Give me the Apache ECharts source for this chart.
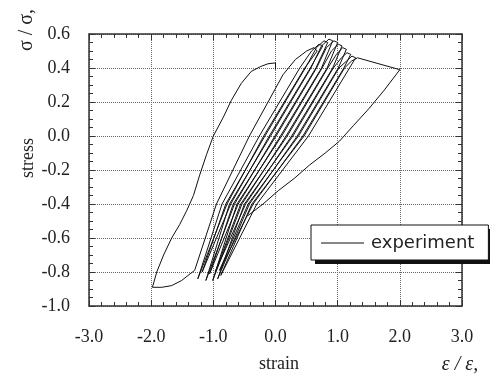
<!DOCTYPE html>
<html>
<head>
<meta charset="utf-8">
<script src="https://cdn.jsdelivr.net/npm/echarts@6/dist/echarts.min.js"></script>
<style>
  html, body { margin: 0; padding: 0; background: #fff; }
  #chart { width: 492px; height: 382px; }
</style>
</head>
<body>
<div id="chart"></div>
<script>
// 単調載荷 (0 -> 圧縮側 -2.0)
var skeletonCurve = [
  [0, 0.39], [0, 0.43], [-0.12, 0.425], [-0.23, 0.41], [-0.39, 0.38], [-0.55, 0.31],
  [-0.71, 0.21], [-0.84, 0.11], [-1.0, 0.0], [-1.11, -0.11], [-1.22, -0.23],
  [-1.32, -0.35], [-1.43, -0.44], [-1.54, -0.52], [-1.67, -0.6], [-1.8, -0.7],
  [-1.91, -0.8], [-1.98, -0.89]
];
// 再載荷
var reloadCurve = [
  [-1.83, -0.89], [-1.67, -0.88], [-1.51, -0.85], [-1.30, -0.79]
];
// 繰返しループ (上昇 -> 頂部 -> 下降)
var cycleLoops = [
  [[-0.95, -0.4], [-0.42, 0], [0.12, 0.36], [0.32, 0.45], [0.50, 0.50], [0.62, 0.52], [0.67, 0.50],
   [0.47, 0.4], [-0.19, 0], [-0.78, -0.4], [-1.25, -0.84]],
  [[-0.86, -0.4], [-0.26, 0], [0.39, 0.4], [0.58, 0.50], [0.70, 0.54], [0.76, 0.53],
   [0.56, 0.4], [-0.10, 0], [-0.72, -0.4], [-1.18, -0.80]],
  [[-0.80, -0.4], [-0.17, 0], [0.48, 0.4], [0.66, 0.52], [0.78, 0.56], [0.84, 0.55],
   [0.65, 0.4], [-0.01, 0], [-0.66, -0.4], [-1.12, -0.85]],
  [[-0.74, -0.4], [-0.08, 0], [0.57, 0.4], [0.74, 0.53], [0.86, 0.57], [0.92, 0.56],
   [0.74, 0.4], [0.08, 0], [-0.60, -0.4], [-1.06, -0.81]],
  [[-0.68, -0.4], [0.01, 0], [0.66, 0.4], [0.82, 0.52], [0.94, 0.56], [1.00, 0.55],
   [0.83, 0.4], [0.17, 0], [-0.54, -0.4], [-1.01, -0.85]],
  [[-0.62, -0.4], [0.10, 0], [0.75, 0.4], [0.90, 0.50], [1.01, 0.54], [1.07, 0.53],
   [0.92, 0.4], [0.26, 0], [-0.48, -0.4], [-0.97, -0.80]],
  [[-0.56, -0.4], [0.19, 0], [0.84, 0.4], [0.98, 0.48], [1.08, 0.52], [1.14, 0.51],
   [1.01, 0.4], [0.35, 0], [-0.42, -0.4], [-0.93, -0.84]],
  [[-0.50, -0.4], [0.28, 0], [0.93, 0.4], [1.06, 0.46], [1.15, 0.49], [1.21, 0.48],
   [1.10, 0.4], [0.44, 0], [-0.36, -0.4], [-0.90, -0.79]],
  [[-0.44, -0.4], [0.37, 0], [1.02, 0.4], [1.14, 0.44], [1.23, 0.47], [1.29, 0.46],
   [1.19, 0.4], [0.53, 0], [-0.30, -0.4], [-0.88, -0.82]],
  [[-0.38, -0.4], [0.46, 0], [1.11, 0.4], [1.22, 0.44], [1.32, 0.46]]
];
// 最終サイクル (引張 2.0 まで -> 除荷)
var lastExcursion = [
  [2.0, 0.39], [1.75, 0.27], [1.5, 0.16], [1.25, 0.06], [1.03, -0.03], [0.8, -0.1],
  [0.55, -0.17], [0.3, -0.25], [0.05, -0.32], [-0.2, -0.40], [-0.45, -0.47]
];

var xMin = -3, xMax = 3, xStep = 1, xMinorStep = 0.2;
var yMin = -1.0, yMax = 0.6, yStep = 0.2, yMinorStep = 0.05;

var pathData = skeletonCurve.concat(reloadCurve);
cycleLoops.forEach(function (loop) { pathData = pathData.concat(loop); });
pathData = pathData.concat(lastExcursion);

var serif = '"Liberation Serif", "DejaVu Serif", serif';
var chart = echarts.init(document.getElementById('chart'), null, { renderer: 'canvas' });

// 枠の目盛り (内向き)
var tickAxis = function (pos, isX, step, len, showLine) {
  return {
    type: 'value',
    position: pos,
    min: isX ? xMin : yMin,
    max: isX ? xMax : yMax,
    interval: step,
    axisLine: { show: showLine, onZero: false, lineStyle: { color: '#333', width: 1.5 } },
    axisTick: { show: true, inside: true, length: len, lineStyle: { color: '#333', width: 1 } },
    axisLabel: { show: false },
    splitLine: { show: false }
  };
};

var xBottom = tickAxis('bottom', true, xStep, 6, true);
xBottom.axisLabel = {
  show: true, margin: 22, color: '#222', fontFamily: serif, fontSize: 18,
  formatter: function (v) { return v.toFixed(1); }
};
xBottom.splitLine = { show: true, lineStyle: { type: 'dotted', color: '#666', width: 1 } };

var yLeft = tickAxis('left', false, yStep, 6, true);
yLeft.axisLabel = {
  show: true, margin: 19, color: '#222', fontFamily: serif, fontSize: 18,
  formatter: function (v) { return v.toFixed(1); }
};
yLeft.splitLine = { show: true, lineStyle: { type: 'dotted', color: '#666', width: 1 } };

var option = {
  backgroundColor: '#fff',
  animation: false,
  grid: { left: 89, right: 30, top: 34, bottom: 76 },
  xAxis: [
    xBottom,
    tickAxis('top', true, xStep, 6, true),
    tickAxis('bottom', true, xMinorStep, 4, false),
    tickAxis('top', true, xMinorStep, 4, false)
  ],
  yAxis: [
    yLeft,
    tickAxis('right', false, yStep, 6, true),
    tickAxis('left', false, yMinorStep, 4, false),
    tickAxis('right', false, yMinorStep, 4, false)
  ],
  legend: {
    left: 311, top: 225,
    z: 10,
    data: [{ name: 'experiment', icon: 'rect' }],
    itemWidth: 43, itemHeight: 1, itemGap: 0,
    padding: [9, 14, 8, 10],
    backgroundColor: '#fff',
    borderColor: '#111', borderWidth: 1,
    textStyle: { fontFamily: '"DejaVu Sans", sans-serif', fontSize: 18, color: '#222', padding: [0, 0, 0, 2] }
  },
  series: [{
    name: 'experiment',
    type: 'line',
    data: pathData,
    showSymbol: false,
    symbol: 'none',
    lineStyle: { color: '#111', width: 1 },
    itemStyle: { color: '#111' }
  }],
  graphic: [
    // 凡例の影
    { type: 'rect', z: 5, shape: { x: 315, y: 229, width: 175, height: 35 },
      style: { fill: '#111' } },
    { type: 'text', x: 27, y: 30, rotation: Math.PI / 2,
      style: { text: 'σ / σ,', font: '20px ' + serif, fill: '#222', align: 'center', verticalAlign: 'middle' } },
    { type: 'text', x: 28, y: 158, rotation: Math.PI / 2,
      style: { text: 'stress', font: '18px ' + serif, fill: '#222', align: 'center', verticalAlign: 'middle' } },
    { type: 'text', x: 279, y: 364,
      style: { text: 'strain', font: '18px ' + serif, fill: '#222', align: 'center', verticalAlign: 'middle' } },
    { type: 'text', x: 460, y: 365,
      style: { text: 'ε / ε,', font: 'italic 20px ' + serif, fill: '#222', align: 'center', verticalAlign: 'middle' } }
  ]
};

chart.setOption(option);
</script>
</body>
</html>
